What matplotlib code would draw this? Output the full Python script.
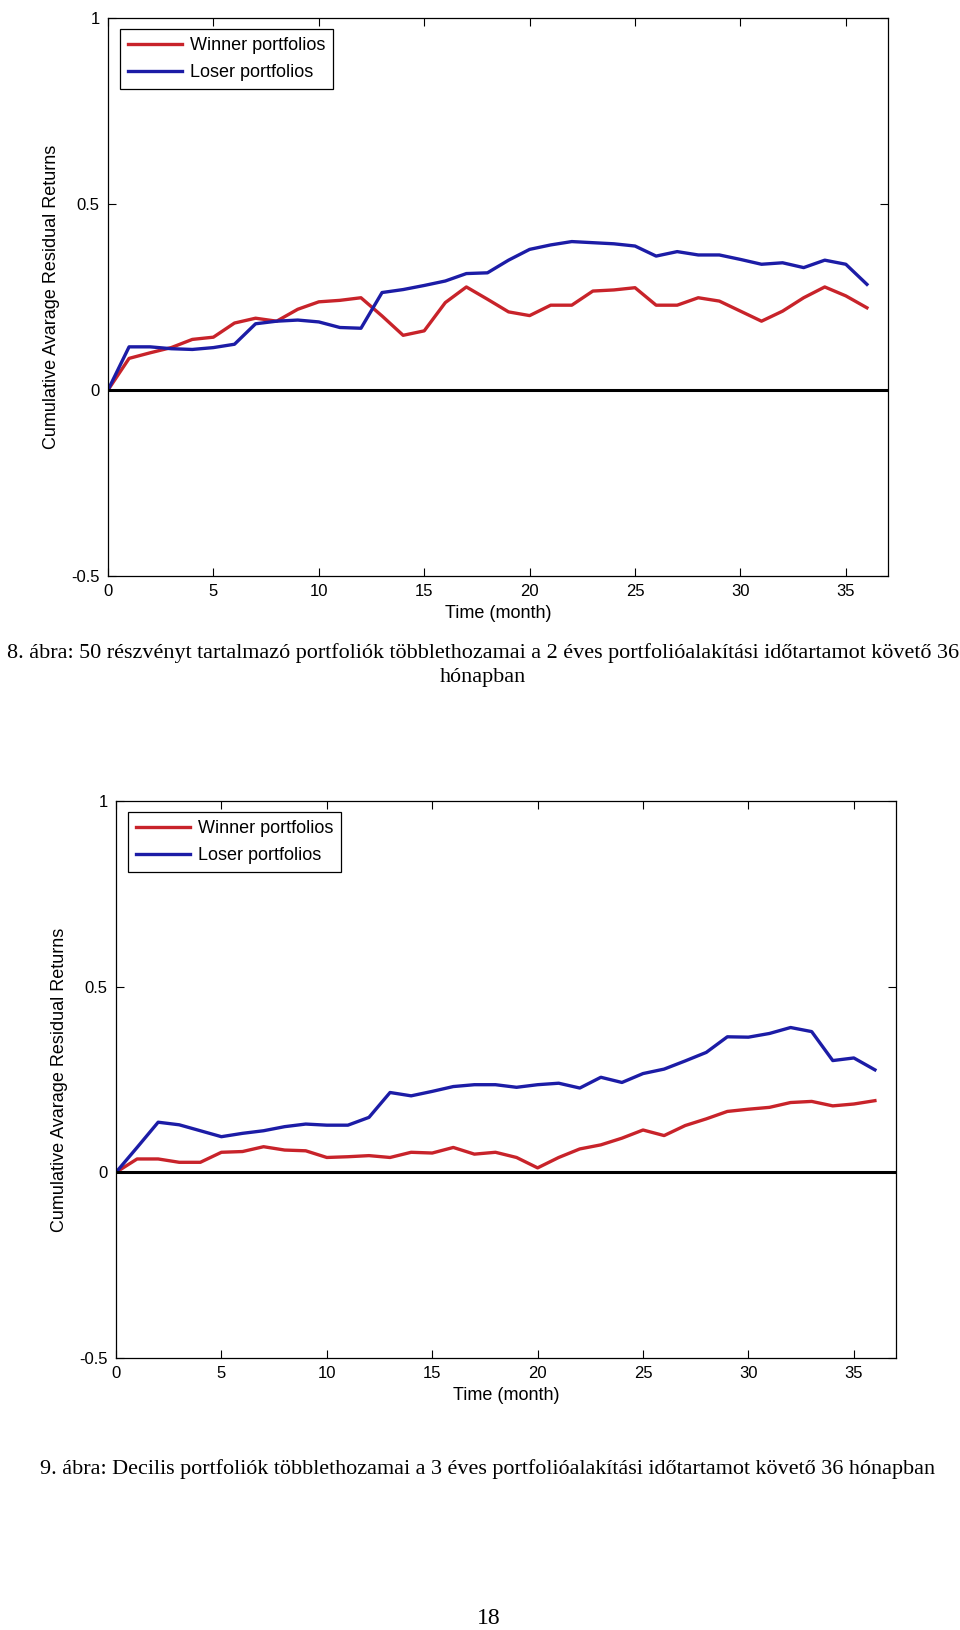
import numpy as np
import matplotlib
matplotlib.use("Agg")
import matplotlib.pyplot as plt

months = np.arange(0, 37)

# 8. abra - 50 reszvenyt tartalmazo portfoliok
winner_8 = [0.0, 0.085, 0.10, 0.114, 0.136, 0.142, 0.18, 0.193, 0.185, 0.217,
            0.237, 0.241, 0.248, 0.199, 0.147, 0.159, 0.235, 0.277, 0.244, 0.21,
            0.20, 0.228, 0.228, 0.266, 0.269, 0.275, 0.228, 0.228, 0.248, 0.239,
            0.212, 0.185, 0.212, 0.248, 0.277, 0.253, 0.221]
loser_8 = [0.0, 0.116, 0.116, 0.111, 0.109, 0.114, 0.123, 0.178, 0.185, 0.188,
           0.183, 0.168, 0.166, 0.262, 0.27, 0.281, 0.293, 0.313, 0.315, 0.349,
           0.378, 0.39, 0.399, 0.396, 0.393, 0.387, 0.36, 0.372, 0.363, 0.363,
           0.351, 0.338, 0.342, 0.329, 0.349, 0.338, 0.284]

# 9. abra - decilis portfoliok
winner_9 = [0.0, 0.036, 0.036, 0.027, 0.027, 0.054, 0.056, 0.069, 0.06, 0.058,
            0.04, 0.042, 0.045, 0.04, 0.054, 0.052, 0.067, 0.049, 0.054, 0.04,
            0.012, 0.04, 0.063, 0.074, 0.092, 0.114, 0.099, 0.126, 0.144, 0.164,
            0.17, 0.175, 0.188, 0.191, 0.179, 0.184, 0.193]
loser_9 = [0.0, 0.067, 0.135, 0.128, 0.112, 0.096, 0.105, 0.112, 0.123, 0.13,
           0.127, 0.127, 0.148, 0.215, 0.206, 0.218, 0.231, 0.236, 0.236, 0.229,
           0.236, 0.24, 0.227, 0.256, 0.242, 0.266, 0.278, 0.30, 0.323, 0.365,
           0.364, 0.374, 0.39, 0.379, 0.301, 0.308, 0.276]

xticks = [0, 5, 10, 15, 20, 25, 30, 35]
yticks = [-0.5, 0, 0.5, 1]
ytick_labels = ["-0.5", "0", "0.5", "1"]

caption_8 = ("8. ábra: 50 részvényt tartalmazó portfoliók többlethozamai a 2 éves "
             "portfolióalakítási időtartamot követő 36\nhónapban")
caption_9 = ("9. ábra: Decilis portfoliók többlethozamai a 3 éves "
             "portfolióalakítási időtartamot követő 36 hónapban")

red = "#c8232a"
blue = "#1c1ca6"
sans = ["Liberation Sans", "DejaVu Sans"]
serif = ["Liberation Serif", "DejaVu Serif"]

W, H = 960, 1630
fig = plt.figure(figsize=(W / 100, H / 100), dpi=100)


def panel(rect, winner, loser):
    ax = fig.add_axes(rect)
    ax.plot(months, winner, color=red, lw=2.4, label="Winner portfolios")
    ax.plot(months, loser, color=blue, lw=2.4, label="Loser portfolios")
    ax.axhline(0, color="black", lw=2.2)
    ax.set_xlim(0, 37)
    ax.set_ylim(-0.5, 1)
    ax.set_xticks(xticks)
    ax.set_xticklabels([str(t) for t in xticks], family=sans, fontsize=12)
    ax.set_yticks(yticks)
    ax.set_yticklabels(ytick_labels, family=sans, fontsize=12)
    ax.tick_params(direction="in", length=6, width=0.8, top=True, right=True, pad=6)
    ax.set_xlabel("Time (month)", family=sans, fontsize=13, labelpad=4)
    ax.set_ylabel("Cumulative Avarage Residual Returns", family=sans, fontsize=13,
                  labelpad=8)
    for s in ax.spines.values():
        s.set_linewidth(0.9)
    leg = ax.legend(loc="upper left", bbox_to_anchor=(0.0154, 0.98), borderaxespad=0,
                    fancybox=False, edgecolor="black", framealpha=1,
                    handlelength=3.0, prop={"family": sans, "size": 13},
                    borderpad=0.45, labelspacing=0.55, handletextpad=0.4)
    leg.get_frame().set_linewidth(0.9)
    return ax


panel([108 / W, 1 - 576 / H, 780 / W, 558 / H], winner_8, loser_8)
panel([116 / W, 1 - 1358 / H, 780 / W, 557 / H], winner_9, loser_9)

fig.text(483 / W, 1 - 665 / H, caption_8, ha="center", va="center",
         family=serif, fontsize=15.9, linespacing=1.3)
fig.text(488 / W, 1 - 1469 / H, caption_9, ha="center", va="center",
         family=serif, fontsize=15.9)
fig.text(489 / W, 1 - 1618 / H, "18", ha="center", va="center",
         family=serif, fontsize=17)

fig.savefig("out.png", dpi=100)
